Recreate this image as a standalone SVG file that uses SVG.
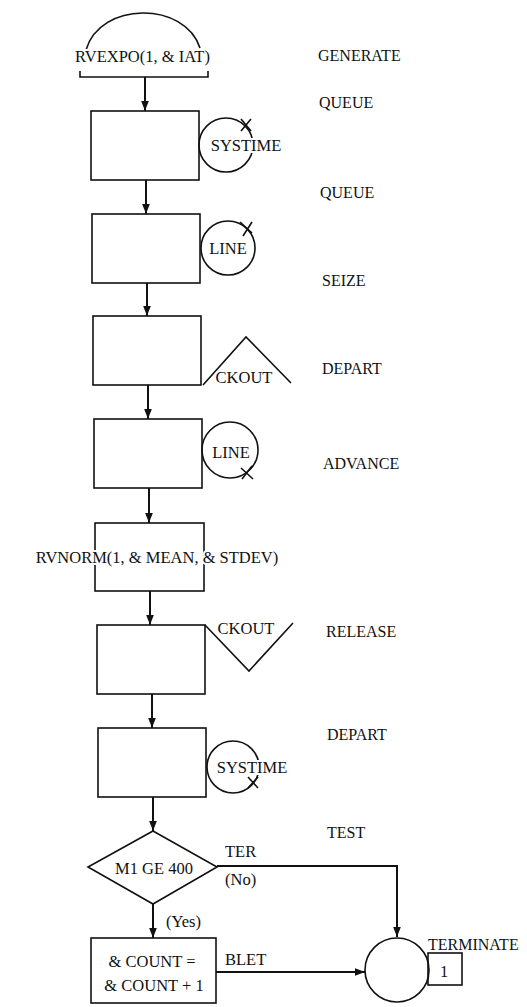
<svg xmlns="http://www.w3.org/2000/svg" width="527" height="1007" viewBox="0 0 527 1007">
<style>
text{font-family:"Liberation Serif","Times New Roman",serif;font-size:16.5px;fill:#111}
.lbl{font-size:16px}
.c{text-anchor:middle}
.m{stroke:#fff;stroke-width:4px;paint-order:stroke;stroke-linejoin:round}
.s{fill:none;stroke:#111;stroke-width:1.6}
.a{fill:none;stroke:#111;stroke-width:2;marker-end:url(#ah)}
</style>
<defs>
<marker id="ah" viewBox="0 0 10 10" refX="10" refY="5" markerWidth="10" markerHeight="10" markerUnits="userSpaceOnUse" orient="auto">
<path d="M0,1.2 L10,5 L0,8.8 Z" fill="#111"/>
</marker>
</defs>
<rect width="527" height="1007" fill="#fff"/>

<g id="connectors">
<path class="a" d="M145,77 V111"/>
<path class="a" d="M146,180 V214"/>
<path class="a" d="M147,283 V316"/>
<path class="a" d="M148,385 V419"/>
<path class="a" d="M149,488 V523"/>
<path class="a" d="M150,591 V625"/>
<path class="a" d="M152,694 V728"/>
<path class="a" d="M153,797 V831"/>
<path class="a" d="M153,904 V938"/>
<path class="a" d="M217,866 H397 V937"/>
<path class="a" d="M216,972 H365"/>
</g>

<g id="generate">
<path class="s" d="M86,50 C100,1 185,1 200,48"/>
<path class="s" d="M80,71 V77 H208 V71"/>
<text class="c m" x="142.5" y="62">RVEXPO(1, &amp; IAT)</text>
<text class="lbl" x="318" y="61">GENERATE</text>
</g>

<g id="queue1">
<rect class="s" x="91" y="111" width="108" height="69"/>
<circle class="s" cx="226" cy="145" r="27"/>
<path class="s" d="M241,119 L251,131 M241,131 L251,119"/>
<text class="c m" x="246" y="151">SYSTIME</text>
<text class="lbl" x="319" y="108">QUEUE</text>
</g>

<g id="queue2">
<rect class="s" x="92" y="214" width="108" height="69"/>
<circle class="s" cx="228" cy="248" r="27"/>
<path class="s" d="M240,222 L252,233"/>
<path class="s" d="M243,236 L252,222"/>
<text class="c m" x="228" y="254">LINE</text>
<text class="lbl" x="320" y="198">QUEUE</text>
</g>

<g id="seize">
<rect class="s" x="93" y="316" width="108" height="69"/>
<path class="s" d="M203,385 L246,337 L291,383"/>
<text class="c m" x="244" y="383">CKOUT</text>
<text class="lbl" x="322" y="286">SEIZE</text>
</g>

<g id="depart1">
<rect class="s" x="94" y="419" width="108" height="69"/>
<circle class="s" cx="230" cy="450" r="28"/>
<path class="s" d="M241,468 L253,479 M242,479 L252,466"/>
<text class="c m" x="231" y="458">LINE</text>
<text class="lbl" x="322" y="374">DEPART</text>
</g>

<g id="advance">
<rect class="s" x="95" y="523" width="109" height="68"/>
<text class="c m" x="157" y="563">RVNORM(1, &amp; MEAN, &amp; STDEV)</text>
<text class="lbl" x="323" y="469">ADVANCE</text>
</g>

<g id="release">
<rect class="s" x="97" y="625" width="108" height="69"/>
<path class="s" d="M205,625 L249,671 L293,623"/>
<text class="c m" x="246" y="634">CKOUT</text>
<text class="lbl" x="326" y="637">RELEASE</text>
</g>

<g id="depart2">
<rect class="s" x="98" y="728" width="108" height="69"/>
<circle class="s" cx="233" cy="767" r="26"/>
<path class="s" d="M248,777 L258,788 M248,788 L258,777"/>
<text class="c m" x="252" y="773">SYSTIME</text>
<text class="lbl" x="327" y="740">DEPART</text>
</g>

<g id="test">
<path class="s" d="M153,831 L217,867 L153,904 L88,867 Z"/>
<text class="c" x="154" y="874">M1 GE 400</text>
<text x="225" y="857">TER</text>
<text x="225" y="885">(No)</text>
<text x="166" y="927">(Yes)</text>
<text class="lbl" x="327" y="838">TEST</text>
</g>

<g id="blet">
<rect class="s" x="91" y="938" width="125" height="65"/>
<text class="c" x="152" y="967">&amp; COUNT =</text>
<text class="c" x="154" y="991">&amp; COUNT + 1</text>
<text x="225" y="965">BLET</text>
</g>

<g id="terminate">
<circle class="s" cx="397" cy="970" r="32"/>
<rect class="s" x="428" y="953" width="34" height="32"/>
<text x="440" y="977">1</text>
<text class="lbl" x="428" y="950">TERMINATE</text>
</g>
</svg>
